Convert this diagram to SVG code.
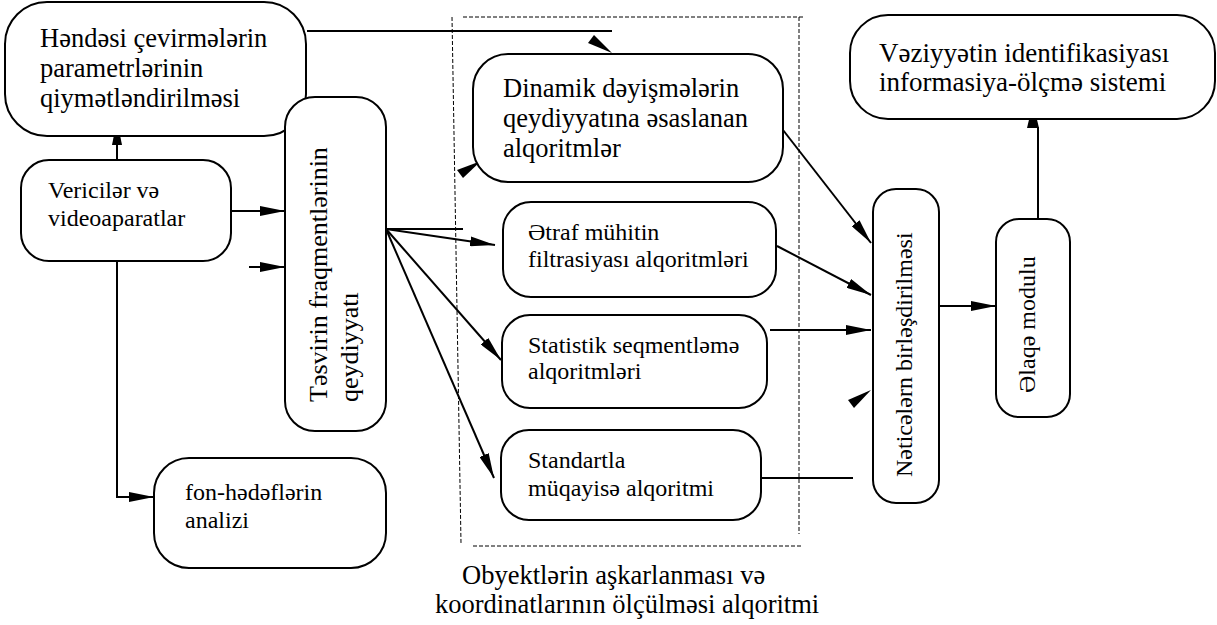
<svg xmlns="http://www.w3.org/2000/svg" width="1217" height="625" viewBox="0 0 1217 625">
<style>
.box{fill:#fff;stroke:#000;stroke-width:2}
.t{font-family:"Liberation Serif","Times New Roman","DejaVu Serif",serif;fill:#000}
.f24{font-size:24px}
.f26{font-size:26.5px}
.f27{font-size:27px}
.ln{fill:none;stroke:#000;stroke-width:2}
.ar{marker-end:url(#ah)}
.dash{fill:none;stroke:#000;stroke-width:1;stroke-dasharray:4 2}
.head{fill:#000}
</style>
<defs>
<marker id="ah" viewBox="0 0 25 10" refX="25" refY="5" markerWidth="25" markerHeight="10" markerUnits="userSpaceOnUse" orient="auto">
<path d="M0,0 L25,5 L0,10 z" fill="#000"/>
</marker>
</defs>
<rect width="1217" height="625" fill="#fff"/>

<g id="frame">
<line class="dash" x1="463" y1="17" x2="803" y2="17"/>
<line class="dash" x1="452" y1="17" x2="461" y2="543"/>
<line class="dash" x1="799" y1="17" x2="799" y2="534"/>
<line class="dash" x1="473" y1="546" x2="802" y2="546"/>
</g>

<g id="connectors">
<path class="ln ar" d="M117,160 V120"/>
<path class="ln ar" d="M231,211 H285"/>
<path class="ln ar" d="M249,267 H285"/>
<path class="ln ar" d="M117,261 V497 H154"/>
<path class="ln" d="M307,31 H612"/>
<polygon class="head" points="612,53 588,43 594,35"/>
<polygon class="head" points="481,161 463,178 457,170"/>
<path class="ln" d="M386,229 H463"/>
<path class="ln ar" d="M386,229 L495,245"/>
<path class="ln ar" d="M386,229 L501,360"/>
<path class="ln ar" d="M386,229 L494,478"/>
<path class="ln ar" d="M783,130 L871,243"/>
<path class="ln ar" d="M777,246 L871,295"/>
<path class="ln ar" d="M770,330 H871"/>
<polygon class="head" points="871,390 854,408 848,400"/>
<path class="ln" d="M762,478 H853"/>
<path class="ln ar" d="M939,306 H996"/>
<path class="ln" d="M1038,219 V127"/>
<polygon class="head" points="1033,103 1027,128 1039,128"/>
</g>

<g id="node-hendesi">
<rect class="box" x="5" y="2" width="301" height="134" rx="42" ry="42"/>
<text class="t f26" x="40" y="47">Həndəsi çevirmələrin</text>
<text class="t f26" x="40" y="77">parametrlərinin</text>
<text class="t f26" x="40" y="107">qiymətləndirilməsi</text>
</g>

<g id="node-vericiler">
<rect class="box" x="21" y="160" width="210" height="101" rx="28" ry="28"/>
<text class="t f24" x="48" y="198">Vericilər və</text>
<text class="t f24" x="48" y="226">videoaparatlar</text>
</g>

<g id="node-tesvirin">
<rect class="box" x="285" y="97" width="101" height="334" rx="30" ry="30"/>
<text class="t" font-size="26" transform="translate(327,402) rotate(-90)">Təsvirin fraqmentlərinin</text>
<text class="t" font-size="26" transform="translate(358,402) rotate(-90)">qeydiyyatı</text>
</g>

<g id="node-fon">
<rect class="box" x="154" y="458" width="232" height="110" rx="35" ry="35"/>
<text class="t f24" x="185" y="500">fon-hədəflərin</text>
<text class="t f24" x="185" y="528">analizi</text>
</g>

<g id="node-dinamik">
<rect class="box" x="473" y="54" width="310" height="128" rx="35" ry="35"/>
<text class="t f26" x="503" y="97">Dinamik dəyişmələrin</text>
<text class="t f26" x="503" y="127">qeydiyyatına əsaslanan</text>
<text class="t f26" x="503" y="157">alqoritmlər</text>
</g>

<g id="node-etraf">
<rect class="box" x="503" y="202" width="273" height="95" rx="28" ry="28"/>
<text class="t f24" x="528" y="240">Ətraf mühitin</text>
<text class="t f24" x="528" y="267">filtrasiyası alqoritmləri</text>
</g>

<g id="node-statistik">
<rect class="box" x="502" y="315" width="265" height="93" rx="28" ry="28"/>
<text class="t f24" x="528" y="353">Statistik seqmentləmə</text>
<text class="t f24" x="528" y="379">alqoritmləri</text>
</g>

<g id="node-standart">
<rect class="box" x="501" y="430" width="260" height="90" rx="28" ry="28"/>
<text class="t f24" x="528" y="468">Standartla</text>
<text class="t f24" x="528" y="496">müqayisə alqoritmi</text>
</g>

<g id="node-neticeler">
<rect class="box" x="873" y="189" width="66" height="314" rx="23" ry="23"/>
<text class="t f24" transform="translate(912,477) rotate(-90)">Nəticələrn birləşdirilməsi</text>
</g>

<g id="node-elaqe">
<rect class="box" x="996" y="219" width="74" height="198" rx="23" ry="23"/>
<text class="t f24" transform="translate(1035,393) rotate(-90)">Əlaqə modulu</text>
</g>

<g id="node-veziyyet">
<rect class="box" x="850" y="15" width="365" height="104" rx="38" ry="38"/>
<text class="t f27" x="879" y="62">Vəziyyətin identifikasiyası</text>
<text class="t f27" x="879" y="91">informasiya-ölçmə sistemi</text>
</g>

<g id="caption">
<text class="t f26" x="462" y="584">Obyektlərin aşkarlanması və</text>
<text class="t f26" x="435" y="613">koordinatlarının ölçülməsi alqoritmi</text>
</g>
</svg>
